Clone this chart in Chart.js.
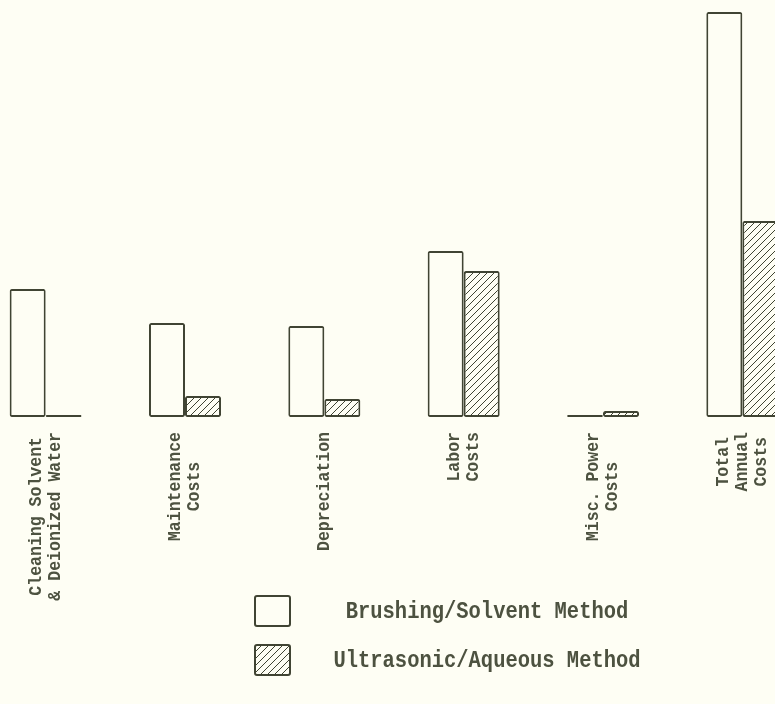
<!DOCTYPE html>
<html>
<head>
<meta charset="utf-8">
<script src="https://cdn.jsdelivr.net/npm/chart.js@4.4.1/dist/chart.umd.min.js"></script>
<style>
  html, body { margin: 0; padding: 0; background: #fefef4; overflow: hidden; }
  #wrap { position: absolute; left: -24px; top: 0; width: 836px; height: 704px; }
</style>
</head>
<body>
<div id="wrap"><canvas id="chart"></canvas></div>
<script>
// Cost categories (each entry is one label, split into its printed lines)
const categories = [
  ['Cleaning Solvent', '& Deionized Water'],
  ['Maintenance', 'Costs'],
  ['Depreciation'],
  ['Labor', 'Costs'],
  ['Misc. Power', 'Costs'],
  ['Total', 'Annual', 'Costs']
];
const seriesNames = ['Brushing/Solvent Method', 'Ultrasonic/Aqueous Method'];
// Relative annual cost of each item (same arbitrary units for both methods)
const brushingSolvent = [128, 94, 91, 166, 2, 405];
const ultrasonicAqueous = [2, 21, 18, 146, 6, 196];

const INK = '#404433';
const TEXT = '#4d5240';
const PAPER = '#fefef4';

// Diagonal hatching used for the ultrasonic bars
function hatchPattern() {
  const s = 7;
  const c = document.createElement('canvas');
  c.width = s; c.height = s;
  const g = c.getContext('2d');
  g.fillStyle = PAPER;
  g.fillRect(0, 0, s, s);
  g.strokeStyle = INK;
  g.lineWidth = 1;
  g.beginPath();
  g.moveTo(-1, s + 1); g.lineTo(s + 1, -1);
  g.moveTo(-1, 1); g.lineTo(1, -1);
  g.moveTo(s - 1, s + 1); g.lineTo(s + 1, s - 1);
  g.stroke();
  return g.createPattern(c, 'repeat');
}
const hatch = hatchPattern();

// Typewriter-style text: tall glyphs on a narrow pitch
const LABEL_FONT = 'bold 19px "Liberation Mono", monospace';
const LABEL_SQUEEZE = 0.87;
const LEGEND_FONT = 'bold 23px "Liberation Mono", monospace';
const LEGEND_SQUEEZE = 0.89;

// Rotated category labels under each group, plus the stacked legend
const annotate = {
  id: 'annotate',
  afterDraw(chart) {
    const ctx = chart.ctx;
    const xs = chart.scales.x;
    const bottom = chart.chartArea.bottom;
    ctx.save();
    ctx.fillStyle = TEXT;
    ctx.font = LABEL_FONT;
    ctx.textAlign = 'center';
    ctx.textBaseline = 'middle';
    const lh = 19;
    categories.forEach((lines, i) => {
      const cx = xs.getPixelForValue(i);
      const longest = Math.max(...lines.map(l => ctx.measureText(l).width)) * LABEL_SQUEEZE;
      const midY = bottom + 15 + longest / 2;
      ctx.save();
      ctx.translate(cx, midY);
      ctx.rotate(-Math.PI / 2);
      ctx.scale(LABEL_SQUEEZE, 1);
      lines.forEach((line, k) => {
        ctx.fillText(line, 0, (k - (lines.length - 1) / 2) * lh);
      });
      ctx.restore();
    });

    // legend
    const ds = chart.data.datasets;
    const boxX = 255 + 24, boxW = 35, boxH = 30;
    const rows = [596, 645];
    ctx.font = LEGEND_FONT;
    ds.forEach((d, k) => {
      const y = rows[k];
      ctx.fillStyle = d.backgroundColor;
      ctx.strokeStyle = INK;
      ctx.lineWidth = 2;
      ctx.beginPath();
      ctx.roundRect(boxX, y, boxW, boxH, 2);
      ctx.fill();
      ctx.stroke();
      ctx.save();
      ctx.fillStyle = TEXT;
      ctx.translate(487 + 24, y + boxH / 2 + 1);
      ctx.scale(LEGEND_SQUEEZE, 1);
      ctx.fillText(d.label, 0, 0);
      ctx.restore();
    });
    ctx.restore();
  }
};

new Chart(document.getElementById('chart'), {
  type: 'bar',
  data: {
    labels: categories,
    datasets: [
      {
        label: seriesNames[0],
        data: brushingSolvent,
        backgroundColor: PAPER,
        borderColor: INK,
        borderWidth: 2,
        borderSkipped: false,
        borderRadius: 2
      },
      {
        label: seriesNames[1],
        data: ultrasonicAqueous,
        backgroundColor: hatch,
        borderColor: INK,
        borderWidth: 2,
        borderSkipped: false,
        borderRadius: 2
      }
    ]
  },
  options: {
    responsive: true,
    maintainAspectRatio: false,
    animation: false,
    datasets: { bar: { categoryPercentage: 0.517, barPercentage: 1.0 } },
    layout: { padding: { top: 7, bottom: 287, left: 0, right: 0 } },
    scales: {
      x: { display: false },
      y: { display: false, min: 0, max: 410 }
    },
    plugins: {
      legend: { display: false },
      tooltip: { enabled: false }
    }
  },
  plugins: [annotate]
});
</script>
</body>
</html>
